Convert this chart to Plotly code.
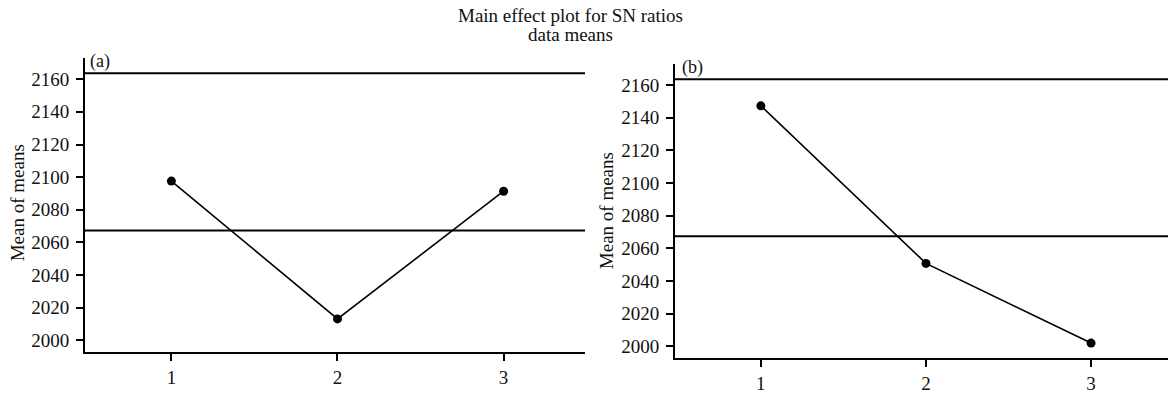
import plotly.graph_objects as go

levels = [1, 2, 3]
tick_labels = ["1", "2", "3"]
means_a = [2097.6, 2013.2, 2091.4]
means_b = [2147.3, 2050.8, 2002.0]
overall_mean_a = 2067.4
overall_mean_b = 2067.5
top_line = 2163.6
y_ticks = [2000, 2020, 2040, 2060, 2080, 2100, 2120, 2140, 2160]

W, H = 1168, 394
FONT = "Liberation Serif"

fig = go.Figure()
fig.add_trace(go.Scatter(x=levels, y=means_a, mode="lines+markers",
                         line=dict(color="black", width=1.6),
                         marker=dict(color="black", size=9),
                         xaxis="x", yaxis="y", showlegend=False))
fig.add_trace(go.Scatter(x=levels, y=means_b, mode="lines+markers",
                         line=dict(color="black", width=1.6),
                         marker=dict(color="black", size=9),
                         xaxis="x2", yaxis="y2", showlegend=False))

axis_common = dict(showline=True, linecolor="black", linewidth=2,
                   ticks="outside", ticklen=7, tickwidth=2, tickcolor="black",
                   showgrid=False, zeroline=False,
                   tickfont=dict(family=FONT, size=19, color="#111"))

fig.update_layout(
    width=W, height=H,
    margin=dict(l=0, r=0, t=0, b=0),
    paper_bgcolor="white", plot_bgcolor="white",
    font=dict(family=FONT, color="#111"),
    xaxis=dict(domain=[85 / W, 585 / W], range=[0.48, 3.49],
               tickvals=levels, ticktext=tick_labels, anchor="y", **axis_common),
    yaxis=dict(domain=[1 - 358.25 / H, 1 - 59 / H], range=[1993, 2173],
               tickvals=y_ticks, anchor="x", ticklabelstandoff=3, **axis_common),
    xaxis2=dict(domain=[675 / W, 1.0], range=[0.48, 3.466],
                tickvals=levels, ticktext=tick_labels, anchor="y2", **axis_common),
    yaxis2=dict(domain=[1 - 364.25 / H, 1 - 65 / H], range=[1993, 2173],
                tickvals=y_ticks, anchor="x2", ticklabelstandoff=3, **axis_common),
)

for xr, yr, m in [("x", "y", overall_mean_a), ("x2", "y2", overall_mean_b)]:
    fig.add_shape(type="line", xref=f"{xr} domain", yref=yr, x0=0, x1=1,
                  y0=m, y1=m, line=dict(color="black", width=2))
    fig.add_shape(type="line", xref=f"{xr} domain", yref=yr, x0=0, x1=1,
                  y0=top_line, y1=top_line, line=dict(color="black", width=2))

ann = []
ann.append(dict(text="Main effect plot for SN ratios", x=570 / W, y=1 - 16 / H,
                xref="paper", yref="paper", showarrow=False,
                xanchor="center", yanchor="middle", font=dict(size=19)))
ann.append(dict(text="data means", x=570 / W, y=1 - 35 / H,
                xref="paper", yref="paper", showarrow=False,
                xanchor="center", yanchor="middle", font=dict(size=19)))
ann.append(dict(text="(a)", x=88 / W, y=1 - 63 / H, xref="paper", yref="paper",
                showarrow=False, xanchor="left", yanchor="middle", font=dict(size=18)))
ann.append(dict(text="(b)", x=680 / W, y=1 - 69 / H, xref="paper", yref="paper",
                showarrow=False, xanchor="left", yanchor="middle", font=dict(size=18)))
ann.append(dict(text="Mean of means", x=17 / W, y=1 - 207 / H, xref="paper", yref="paper",
                showarrow=False, textangle=-90, xanchor="center", yanchor="middle",
                font=dict(size=19)))
ann.append(dict(text="Mean of means", x=606 / W, y=1 - 215 / H, xref="paper", yref="paper",
                showarrow=False, textangle=-90, xanchor="center", yanchor="middle",
                font=dict(size=19)))
fig.update_layout(annotations=ann)

fig.write_html(
    "out.html",
    config={"displayModeBar": False},
    post_script="document.body.style.margin='0';document.body.style.padding='0';"
                "document.body.style.overflow='hidden';",
)
